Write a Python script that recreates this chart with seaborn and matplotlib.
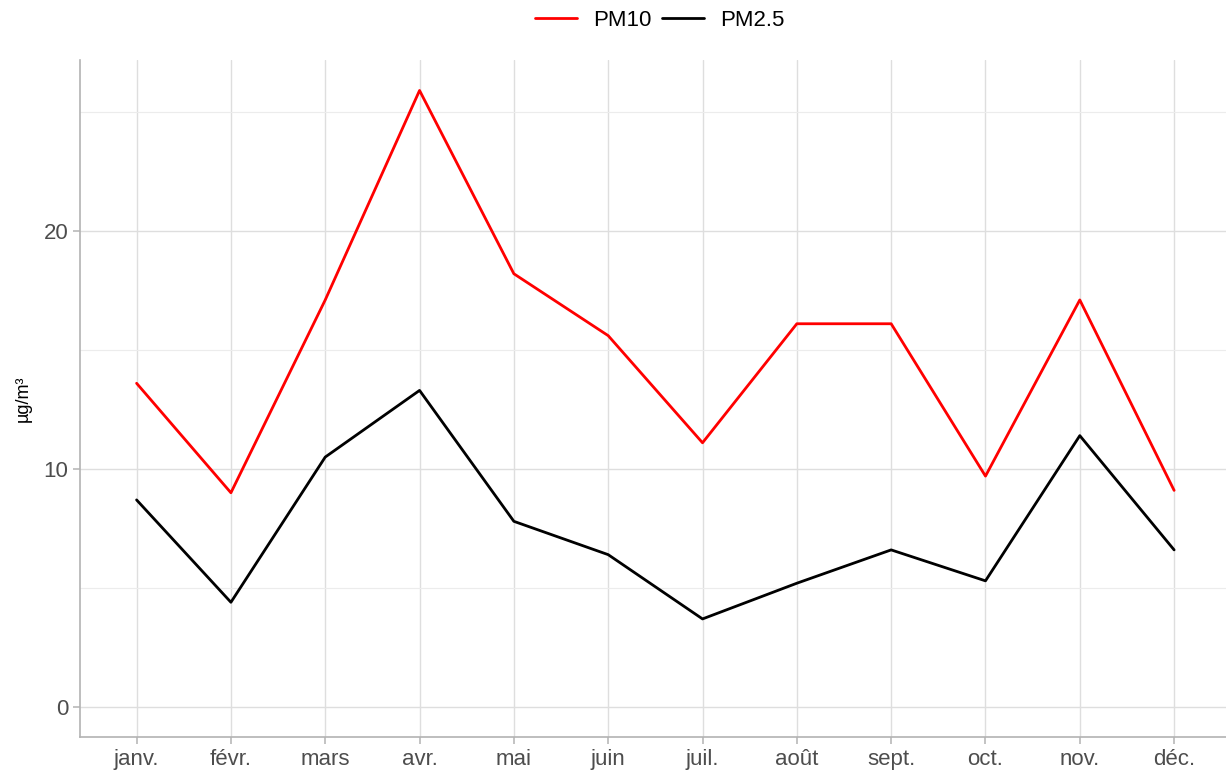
import pandas as pd
import matplotlib.pyplot as plt
import seaborn as sns

mois = ["janv.", "févr.", "mars", "avr.", "mai", "juin",
        "juil.", "août", "sept.", "oct.", "nov.", "déc."]
pm10 = [13.6, 9.0, 17.1, 25.9, 18.2, 15.6, 11.1, 16.1, 16.1, 9.7, 17.1, 9.1]
pm25 = [8.7, 4.4, 10.5, 13.3, 7.8, 6.4, 3.7, 5.2, 6.6, 5.3, 11.4, 6.6]

df = pd.DataFrame({"mois": mois * 2,
                   "valeur": pm10 + pm25,
                   "polluant": ["PM10"] * 12 + ["PM2.5"] * 12})
df["x"] = list(range(12)) * 2

sns.set_theme(style="whitegrid")
plt.rcParams["font.family"] = ["Liberation Sans", "DejaVu Sans"]

fig = plt.figure(figsize=(12.26, 7.75), dpi=100)
ax = fig.add_axes([80 / 1226, 38 / 775, 1146 / 1226, 677 / 775])

sns.lineplot(data=df, x="x", y="valeur", hue="polluant",
             palette={"PM10": "#ff0000", "PM2.5": "#000000"},
             linewidth=2, ax=ax, legend=True)

ax.set_xlim(-0.6, 11.55)
ax.set_ylim(-1.26, 27.18)
ax.set_xticks(range(12))
ax.set_xticklabels(mois)
ax.set_yticks([0, 10, 20])
ax.set_yticks([5, 15, 25], minor=True)
ax.set_xlabel("")
ax.set_ylabel("µg/m³", fontsize=13, color="black", labelpad=8)

ax.grid(which="major", color="#dedede", linewidth=1)
ax.grid(which="minor", axis="y", color="#ececec", linewidth=0.8)
ax.set_facecolor("white")
for side in ["top", "right"]:
    ax.spines[side].set_visible(False)
for side in ["left", "bottom"]:
    ax.spines[side].set_color("#b3b3b3")
    ax.spines[side].set_linewidth(1.2)
ax.tick_params(axis="both", which="major", length=5, width=1.1,
               color="#b3b3b3", labelsize=16, labelcolor="#4d4d4d",
               direction="out", bottom=True, left=True)
ax.tick_params(axis="y", which="minor", length=0)

handles, labels = ax.get_legend_handles_labels()
ax.get_legend().remove()
fig.legend(handles, labels, loc="center", bbox_to_anchor=(0.538, 1 - 20 / 775),
           ncol=2, frameon=False, fontsize=16, handlelength=1.9,
           columnspacing=0.5, handletextpad=0.7, labelcolor="black")

fig.savefig("out.png", dpi=100)
